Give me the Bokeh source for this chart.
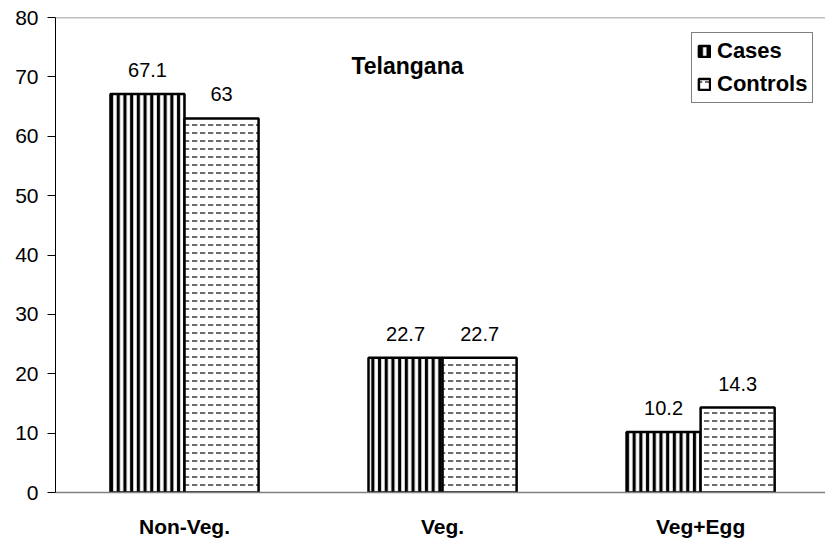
from bokeh.plotting import figure
from bokeh.models import ColumnDataSource, Range1d, FixedTicker, Span, Label, Legend, LegendItem
from bokeh.core.properties import value
from bokeh.embed import file_html
from bokeh.resources import INLINE

# ---- data ----
categories = ["Non-Veg.", "Veg.", "Veg+Egg"]
cases = [67.1, 22.7, 10.2]
controls = [63.0, 22.7, 14.3]
case_labels = ["67.1", "22.7", "10.2"]
control_labels = ["63", "22.7", "14.3"]
y_ticks = [0, 10, 20, 30, 40, 50, 60, 70, 80]
chart_title = "Telangana"

BAR_W = 0.287
centers = [i + 0.5 for i in range(len(categories))]

src_cases = ColumnDataSource(dict(x=[c - BAR_W / 2 for c in centers], top=cases, lab=case_labels))
src_ctrl = ColumnDataSource(dict(x=[c + BAR_W / 2 for c in centers], top=controls, lab=control_labels))

FONT = "Liberation Sans"

p = figure(width=825, height=544, output_backend="svg", toolbar_location=None,
           x_range=Range1d(0, 2.984), y_range=Range1d(0, 80),
           min_border_left=55, min_border_right=0, min_border_top=17, min_border_bottom=52)
p.outline_line_color = None
p.xgrid.visible = False
p.ygrid.visible = False
p.background_fill_color = "white"

r_cases = p.vbar(x="x", top="top", width=BAR_W, source=src_cases,
                 fill_color="white", line_color="black", line_width=2.5,
                 hatch_pattern="vertical_line", hatch_color="black",
                 hatch_scale=6.7, hatch_weight=3.2)
r_ctrl = p.vbar(x="x", top="top", width=BAR_W, source=src_ctrl,
                fill_color="white", line_color="black", line_width=2.5,
                hatch_pattern="horizontal_dash", hatch_color="#3a3a3a",
                hatch_scale=8, hatch_weight=1.5)

for src in (src_cases, src_ctrl):
    p.text(x="x", y="top", text="lab", source=src, text_align="center",
           text_baseline="alphabetic", y_offset=-24, text_font=value(FONT),
           text_font_size="20px", text_color="black")

# top border line
p.add_layout(Span(location=80, dimension="width", line_color="#808080", line_width=1.5))

# chart title inside plot
p.add_layout(Label(x=1.364, y=71.8, text=chart_title, text_align="center",
                   text_baseline="middle", text_font=FONT, text_font_size="23px",
                   text_font_style="bold", text_color="black"))

# axes
p.yaxis.ticker = FixedTicker(ticks=y_ticks)
p.yaxis.axis_line_color = "black"
p.yaxis.major_tick_line_color = "black"
p.yaxis.major_tick_out = 8
p.yaxis.major_tick_in = 0
p.yaxis.minor_tick_line_color = None
p.yaxis.major_label_standoff = 9
p.yaxis.major_label_text_font = FONT
p.yaxis.major_label_text_font_size = "21px"
p.yaxis.major_label_text_color = "black"

p.xaxis.ticker = FixedTicker(ticks=centers)
p.xaxis.major_label_overrides = {c: lab for c, lab in zip(centers, categories)}
p.xaxis.axis_line_color = "#808080"
p.xaxis.axis_line_width = 1.5
p.xaxis.major_tick_line_color = None
p.xaxis.minor_tick_line_color = None
p.xaxis.major_label_standoff = 16
p.xaxis.major_label_text_font = FONT
p.xaxis.major_label_text_font_size = "21px"
p.xaxis.major_label_text_font_style = "bold"
p.xaxis.major_label_text_color = "black"

legend = Legend(items=[LegendItem(label="Cases", renderers=[r_cases]),
                       LegendItem(label="Controls", renderers=[r_ctrl])],
                location=(636, 389), orientation="vertical")
legend.border_line_color = "black"
legend.border_line_width = 1
legend.background_fill_color = "white"
legend.background_fill_alpha = 1
legend.label_text_font = FONT
legend.label_text_font_size = "22px"
legend.label_text_font_style = "bold"
legend.label_text_color = "black"
legend.glyph_width = 14
legend.glyph_height = 14
legend.label_standoff = 6
legend.label_height = 25
legend.spacing = 7
legend.padding = 5
legend.margin = 0
p.add_layout(legend, "center")

open("out.html", "w").write(file_html(p, INLINE))
